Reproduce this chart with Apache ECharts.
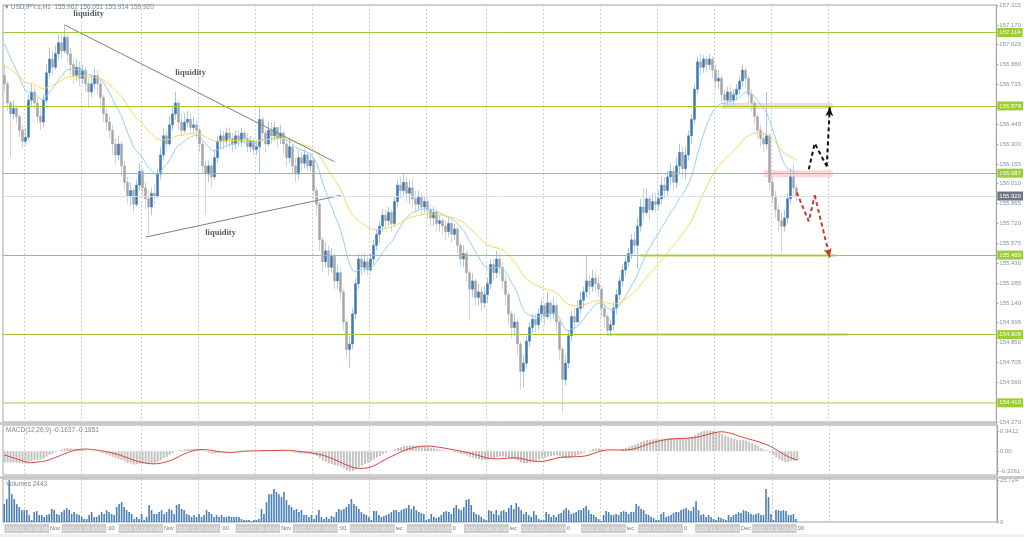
<!DOCTYPE html>
<html>
<head>
<meta charset="utf-8">
<script src="https://cdn.jsdelivr.net/npm/echarts@6/dist/echarts.min.js"></script>
<style>
  html, body { margin: 0; padding: 0; background: #fff; }
  #chart { width: 1024px; height: 537px; }
</style>
</head>
<body>
<div id="chart"></div>
<script>
// USDJPY.s H1 candles (open of each bar = previous close)
const firstOpen = 156.80
const closes = [
  156.74,156.60,156.52,156.56,156.50,156.40,156.32,156.35,156.62,156.68,
  156.60,156.50,156.46,156.62,156.82,156.92,156.86,156.96,157.04,156.98,
  157.08,156.96,156.88,156.80,156.86,156.78,156.84,156.74,156.68,156.74,
  156.80,156.74,156.64,156.52,156.46,156.40,156.30,156.22,156.30,156.14,
  156.02,155.92,155.96,155.86,156.00,156.10,155.98,155.90,155.84,155.94,
  155.92,156.08,156.22,156.36,156.30,156.44,156.52,156.60,156.46,156.40,
  156.46,156.48,156.42,156.44,156.40,156.30,156.14,156.08,156.14,156.06,
  156.20,156.32,156.36,156.32,156.38,156.34,156.30,156.36,156.32,156.38,
  156.34,156.28,156.32,156.26,156.28,156.48,156.38,156.30,156.40,156.36,
  156.42,156.34,156.38,156.30,156.20,156.28,156.14,156.08,156.20,156.16,
  156.22,156.14,156.18,155.96,155.86,155.60,155.44,155.52,155.40,155.48,
  155.30,155.36,155.22,155.00,154.80,154.84,155.06,155.28,155.46,155.40,
  155.44,155.38,155.46,155.56,155.64,155.70,155.78,155.74,155.80,155.72,
  155.88,156.00,155.96,156.02,155.94,155.98,155.90,155.86,155.92,155.84,
  155.88,155.82,155.76,155.80,155.72,155.74,155.70,155.66,155.72,155.64,
  155.68,155.56,155.46,155.50,155.36,155.24,155.30,155.18,155.22,155.14,
  155.20,155.28,155.42,155.36,155.46,155.40,155.30,155.20,155.06,154.96,
  155.00,154.84,154.64,154.70,154.86,154.96,155.02,154.98,155.06,155.12,
  155.04,155.14,155.06,155.12,155.00,154.80,154.58,154.70,154.90,155.04,
  155.00,155.10,155.16,155.22,155.30,155.26,155.32,155.28,155.24,155.10,
  155.04,154.94,154.98,155.10,155.20,155.30,155.38,155.44,155.50,155.60,
  155.56,155.70,155.84,155.80,155.90,155.82,155.88,155.86,155.90,156.00,
  155.96,156.06,156.10,156.02,156.14,156.24,156.12,156.22,156.36,156.48,
  156.70,156.90,156.86,156.92,156.88,156.92,156.84,156.76,156.78,156.66,
  156.62,156.68,156.62,156.66,156.70,156.76,156.84,156.78,156.66,156.60,
  156.50,156.40,156.34,156.30,156.36,156.02,155.92,155.82,155.74,155.70,
  155.76,155.90,156.06,155.98,155.92
]
const highs = [
  156.88,156.76,156.62,156.62,156.58,156.52,156.44,156.42,156.66,156.74,
  156.72,156.64,156.56,156.66,156.88,157.00,156.98,157.02,157.10,157.10,
  157.17,157.10,157.00,156.92,156.92,156.90,156.88,156.86,156.78,156.80,
  156.86,156.84,156.78,156.66,156.56,156.50,156.44,156.34,156.36,156.32,
  156.18,156.06,156.02,155.98,156.04,156.16,156.12,156.02,155.96,155.98,
  156.00,156.12,156.28,156.42,156.40,156.50,156.58,156.68,156.62,156.52,
  156.52,156.54,156.52,156.50,156.48,156.42,156.32,156.18,156.18,156.16,
  156.26,156.36,156.40,156.40,156.42,156.42,156.38,156.40,156.40,156.42,
  156.40,156.38,156.36,156.34,156.32,156.57,156.50,156.40,156.46,156.46,
  156.46,156.42,156.44,156.40,156.32,156.34,156.30,156.20,156.26,156.24,
  156.26,156.24,156.22,156.20,155.98,155.88,155.62,155.58,155.56,155.54,
  155.50,155.42,155.40,155.24,155.02,154.90,155.10,155.32,155.50,155.50,
  155.50,155.48,155.50,155.60,155.68,155.74,155.82,155.82,155.84,155.82,
  155.92,156.04,156.06,156.08,156.06,156.04,156.05,155.96,155.96,155.94,
  155.92,155.90,155.86,155.84,155.82,155.78,155.76,155.74,155.76,155.74,
  155.72,155.70,155.58,155.56,155.52,155.38,155.36,155.32,155.28,155.26,
  155.26,155.32,155.46,155.46,155.52,155.50,155.44,155.34,155.22,155.08,
  155.06,155.02,154.86,154.76,154.90,155.00,155.06,155.06,155.10,155.16,
  155.14,155.22,155.16,155.18,155.14,155.02,154.82,154.76,154.94,155.08,
  155.10,155.16,155.22,155.26,155.48,155.34,155.38,155.36,155.34,155.26,
  155.14,155.06,155.02,155.14,155.24,155.34,155.42,155.48,155.54,155.64,
  155.66,155.76,155.90,155.98,155.98,155.92,155.94,155.94,155.96,156.06,
  156.06,156.10,156.16,156.14,156.20,156.30,156.28,156.28,156.40,156.52,
  156.74,156.94,156.96,156.95,156.94,156.96,156.94,156.88,156.84,156.80,
  156.70,156.72,156.72,156.70,156.74,156.80,156.88,156.86,156.80,156.70,
  156.62,156.52,156.44,156.38,156.68,156.38,156.06,155.96,155.86,155.80,
  155.82,155.94,156.12,156.16,156.00
]
const lows = [
  156.68,156.54,156.20,156.48,156.45,156.35,156.27,156.29,156.33,156.58,
  156.55,156.45,156.40,156.42,156.60,156.78,156.80,156.84,156.92,156.92,
  156.96,156.90,156.80,156.74,156.76,156.72,156.74,156.68,156.56,156.64,
  156.70,156.66,156.56,156.46,156.40,156.34,156.22,156.15,156.18,156.06,
  155.96,155.86,155.85,155.80,155.84,155.96,155.92,155.82,155.64,155.78,
  155.86,155.90,156.04,156.18,156.24,156.28,156.40,156.48,156.40,156.36,
  156.38,156.42,156.38,156.38,156.34,156.24,156.08,155.79,156.02,155.98,
  156.04,156.16,156.26,156.26,156.28,156.28,156.24,156.26,156.28,156.28,
  156.30,156.24,156.24,156.22,156.22,156.09,156.32,156.24,156.28,156.30,
  156.32,156.28,156.30,156.22,156.14,156.16,156.08,156.02,156.04,156.10,
  156.12,156.10,156.10,155.90,155.78,155.52,155.36,155.40,155.34,155.36,
  155.24,155.24,155.16,154.94,154.74,154.67,154.80,155.02,155.24,155.34,
  155.36,155.34,155.36,155.42,155.52,155.58,155.66,155.68,155.70,155.66,
  155.70,155.84,155.90,155.92,155.88,155.86,155.84,155.80,155.82,155.78,
  155.80,155.76,155.70,155.70,155.66,155.66,155.64,155.60,155.62,155.58,
  155.60,155.50,155.40,155.40,155.30,155.01,155.18,155.12,155.12,155.08,
  155.10,155.14,155.24,155.30,155.32,155.34,155.24,155.12,154.98,154.88,
  154.90,154.76,154.50,154.52,154.66,154.82,154.92,154.92,154.94,155.00,
  154.98,155.02,155.00,155.02,154.94,154.72,154.34,154.54,154.66,154.86,
  154.94,155.00,155.06,155.10,155.18,155.20,155.22,155.22,155.18,155.04,
  154.96,154.90,154.90,154.94,155.06,155.16,155.26,155.34,155.40,155.46,
  155.50,155.39,155.66,155.74,155.78,155.74,155.80,155.80,155.82,155.86,
  155.90,155.92,156.00,155.96,155.98,156.08,156.06,156.04,156.18,156.30,
  156.44,156.66,156.80,156.82,156.82,156.84,156.78,156.70,156.70,156.60,
  156.56,156.58,156.58,156.58,156.62,156.66,156.72,156.70,156.60,156.54,
  156.44,156.34,156.28,156.24,156.26,155.96,155.86,155.76,155.66,155.50,
  155.66,155.72,155.86,155.92,155.88
]
// tick volumes (own, finer sampling than the candles)
const volumes = [
  11000,14100,25700,17100,14100,11000,9200,7300,7300,7300,4300,1200,6100,6700,4300,4300,3100,
  4300,4900,8000,7300,4900,4300,6100,7300,8600,7300,4900,6100,4900,4300,3100,1800,
  1800,4300,6100,3100,3100,4300,6100,4900,7300,6100,4900,4300,9200,11000,12200,9200,
  7300,6100,4900,1800,3100,1800,4900,1200,3100,10400,7300,4900,4900,6100,7300,4900,
  6100,8000,7300,4900,10400,11000,8000,7300,4900,4300,3100,4300,3100,4900,3100,4300,
  7300,6100,4900,3100,4300,3100,4300,3100,3100,3700,3100,3100,3100,3100,1800,1200,
  1200,1200,600,1200,1200,1800,8000,4900,12200,17100,17100,20200,18400,17100,15300,18400,
  13500,10400,9200,7300,8000,6100,7300,4300,4300,3100,4300,1800,4300,7300,3100,1800,
  3100,1800,3700,3100,6100,8000,7300,8000,9200,11000,14100,
  11000,9800,8000,6100,4900,4300,3100,1200,6700,6700,4300,3100,3700,4300,4900,6100,
  7300,7300,6100,7300,8000,8600,10400,8000,9800,7300,6100,5500,4900,1200,1800,4900,
  3100,2400,3100,4300,6100,6700,6100,4900,8600,10400,8000,7300,9200,13500,14100,10400,
  6100,4900,4300,3100,1800,1200,7300,6700,4900,7300,4300,6700,7300,6100,8600,10400,
  8000,11600,9200,7300,4900,6100,4300,3100,6700,4300,1800,1200,1200,6100,4900,3100,
  4300,3100,4900,5500,7300,8600,7300,4900,5500,6100,7300,7300,8600,9800,7300,4900,
  4300,3100,1800,600,4300,6700,6100,4300,4300,4900,4300,6100,6700,6100,4900,6100,
  6100,11000,9800,8000,7300,4900,4300,3100,2400,1200,1200,4900,6100,3100,3700,4300,
  5500,6100,6100,7300,8000,8600,7300,6700,9200,12900,7300,4300,4900,3100,4300,3100,
  1800,1200,3100,2400,1800,1200,4300,3100,4300,4900,6100,5500,7300,6700,6100,4900,
  4300,4900,5500,4300,4300,20200,15300,4900,1200,7300,7300,6700,7300,6700,4300,4300,
  4900,1800
]

const priceTicks = [157.315,157.170,157.025,156.880,156.735,156.445,156.300,156.155,156.010,
  155.865,155.720,155.575,155.430,155.285,155.140,154.995,154.850,154.705,154.560,154.270]
const macdTicks = [0.3412, 0, -0.3361]
const volumeTicks = [25724, 0]
const levels = [157.114, 156.578, 156.087, 155.489, 154.908, 154.410]
const lastPrice = 155.920
const dayLabels = ['2025.11.24 00:00','2025.11.25 00:00','2025.11.26 00:00','2025.11.27 00:00',
  '2025.11.28 00:00','2025.12.01 00:00','2025.12.02 00:00','2025.12.03 00:00','2025.12.04 00:00',
  '2025.12.05 00:00','2025.12.08 00:00','2025.12.09 00:00','2025.12.10 00:00','2025.12.11 00:00']
const gapLabels = ['Nov',':00','Nov',':00','Nov',':00','lec','0','lec','0','lec','0','Dec','00']

// drawn objects, in [bar index, price]
const trendUpper = [[20.2, 157.17], [109.5, 156.17]]
const trendLower = [[46.8, 155.62], [111.8, 155.925]]
const liquidityNotes = [[27.5, 157.25], [62, 156.82], [72, 155.655]]
const upperZone = [[239.2, 156.600], [276.2, 156.556]]
const lowerZone = [[252.5, 156.108], [276.2, 156.057]]
const upPath = [[267.8, 156.115], [269.8, 156.305], [273.5, 156.137], [275.2, 156.569]]
const downPath = [[264.2, 155.947], [267.8, 155.735], [269.8, 155.925], [274.5, 155.472]]

// indicator settings / seeds for history before the first bar
const maFastPeriod = 16, maFastSeed = 157.07
const maSlowPeriod = 40, maSlowSeed = 156.88
const macdFastSeed = 156.78, macdSlowSeed = 156.98, signalSeed = -0.05

const N_SLOTS = 331
const V_SLOTS = 398
const slotCats = Array.from({ length: N_SLOTS }, (_, i) => String(i))
const volCats = Array.from({ length: V_SLOTS }, (_, i) => String(i))

const opens = closes.map((c, i) => (i === 0 ? firstOpen : closes[i - 1]))
const wickData = closes.map((c, i) => {
  const o = opens[i]
  return [o, c, Math.min(lows[i], o, c), Math.max(highs[i], o, c)]
})
const bodyData = closes.map((c, i) => {
  const o = opens[i]
  return [o, c, Math.min(o, c), Math.max(o, c)]
})

function ema(src, period, seed) {
  const k = 2 / (period + 1)
  let prev = seed
  return src.map(v => (prev = prev + k * (v - prev)))
}
const maFast = ema(closes, maFastPeriod, maFastSeed)
const maSlow = ema(closes, maSlowPeriod, maSlowSeed)
const e12 = ema(closes, 12, macdFastSeed)
const e26 = ema(closes, 26, macdSlowSeed)
const macd = e12.map((v, i) => v - e26[i])
const signal = macd.map((_, i) => {
  let s = 0
  for (let j = i - 8; j <= i; j++) s += j >= 0 ? macd[j] : signalSeed
  return s / 9
})

const labelEvery = 19.15
const labelAt = new Map()
dayLabels.forEach((d, k) => labelAt.set(Math.round(k * labelEvery), k))
const gridAt = new Set()
for (let k = 0; k < 15; k++) gridAt.add(Math.round(7.33 + k * labelEvery))

const gridSplit = {
  show: true,
  interval: (i) => gridAt.has(i),
  lineStyle: { color: '#cfcfcf', type: [2, 2], width: 1 }
}
const axisText = { fontSize: 6, color: '#8592a6', fontFamily: 'Liberation Sans' }
const green = '#9acd32'
const solidGreen = { color: green, width: 1, type: 'solid' }

const chart = echarts.init(document.getElementById('chart'))

const levelLines = levels.map(v => ({
  yAxis: v,
  lineStyle: v === 154.410 ? { color: '#cde6a6', width: 2, type: 'solid' } : solidGreen,
  label: { backgroundColor: green }
}))
levelLines.push({
  yAxis: lastPrice,
  lineStyle: { color: '#dcdcf4', width: 1, type: 'solid' },
  label: { backgroundColor: '#6d7680' }
})
const bandStyle = { color: 'rgba(154,205,50,0.42)', width: 3, type: 'solid' }

const options = {
  animation: false,
  backgroundColor: '#ffffff',
  textStyle: { fontFamily: 'Liberation Sans' },
  grid: [
    { left: 3, right: 27, top: 5, height: 417, show: true, borderColor: '#a3a3a3', borderWidth: 1 },
    { left: 3, right: 27, top: 425, height: 50, show: true, borderColor: '#a3a3a3', borderWidth: 1 },
    { left: 3, right: 27, top: 479, height: 43, show: true, borderColor: '#a3a3a3', borderWidth: 1 }
  ],
  xAxis: [
    { type: 'category', gridIndex: 0, data: slotCats, axisLine: { show: false }, axisTick: { show: false },
      axisLabel: { show: false }, splitLine: gridSplit },
    { type: 'category', gridIndex: 1, data: slotCats, axisLine: { show: false }, axisTick: { show: false },
      axisLabel: { show: false }, splitLine: gridSplit },
    { type: 'category', gridIndex: 2, position: 'top', data: volCats, show: false },
    { type: 'category', gridIndex: 2, position: 'bottom', data: slotCats,
      axisLine: { show: false }, axisTick: { show: false },
      splitLine: gridSplit,
      axisLabel: {
        interval: (i) => labelAt.has(i),
        showMinLabel: true,
        showMaxLabel: true,
        hideOverlap: false,
        align: 'left',
        margin: 2,
        formatter: (val, idx) => {
          const k = labelAt.get(idx)
          return '{box|' + dayLabels[k] + '}{gap|' + gapLabels[k] + '}'
        },
        rich: {
          box: { backgroundColor: '#cccccc', color: '#eeeeee', fontSize: 5.5, padding: [2, 1, 1, 1] },
          gap: { color: '#707070', fontSize: 5.5, padding: [0, 0, 0, 1] }
        }
      } }
  ],
  yAxis: [
    { type: 'value', gridIndex: 0, position: 'right', min: 154.270, max: 157.315, z: 5,
      splitLine: { show: false },
      axisLine: { show: true, lineStyle: { color: '#a3a3a3' } },
      axisTick: { show: true, customValues: priceTicks, length: 2, lineStyle: { color: '#9aa4b0' } },
      axisLabel: Object.assign({ customValues: priceTicks, margin: 3, formatter: v => v.toFixed(3) }, axisText) },
    { type: 'value', gridIndex: 1, position: 'right', min: -0.40, max: 0.44,
      splitLine: { show: false },
      axisLine: { show: true, lineStyle: { color: '#a3a3a3' } },
      axisTick: { show: true, customValues: macdTicks, length: 2, lineStyle: { color: '#9aa4b0' } },
      axisLabel: Object.assign({ customValues: macdTicks, margin: 3,
        formatter: v => (v === 0 ? '0.00' : v.toFixed(4)) }, axisText) },
    { type: 'value', gridIndex: 2, position: 'right', min: 0, max: 26400,
      splitLine: { show: false },
      axisLine: { show: true, lineStyle: { color: '#a3a3a3' } },
      axisTick: { show: true, customValues: volumeTicks, length: 2, lineStyle: { color: '#9aa4b0' } },
      axisLabel: Object.assign({ customValues: volumeTicks, margin: 3 }, axisText) }
  ],
  graphic: [
    { type: 'rect', shape: { x: 0, y: 422, width: 997, height: 3 }, style: { fill: '#c9c9c9' }, z: 1 },
    { type: 'rect', shape: { x: 0, y: 476, width: 1024, height: 3 }, style: { fill: '#c9c9c9' }, z: 1 },
    { type: 'rect', shape: { x: 0, y: 534, width: 1024, height: 3 }, style: { fill: '#efefef' }, z: 1 },
    { type: 'text', left: 5, top: 4, z: 100,
      style: { text: '\u25BE USDJPY.s,H1  155.962 156.051 155.914 155.920', fontSize: 6.5, fill: '#7686a0',
        fontFamily: 'Liberation Sans' } },
    { type: 'text', left: 6, top: 427, z: 100,
      style: { text: 'MACD(12,26,9) -0.1637 -0.1851', fontSize: 6.5, fill: '#7686a0', fontFamily: 'Liberation Sans' } },
    { type: 'text', left: 6, top: 481, z: 100,
      style: { text: 'Volumes 2443', fontSize: 6.5, fill: '#7686a0', fontFamily: 'Liberation Sans' } }
  ],
  series: [
    {
      name: 'wicks', type: 'candlestick', xAxisIndex: 0, yAxisIndex: 0, data: wickData, barWidth: 1,
      silent: true,
      itemStyle: { color: '#a7c8e6', color0: '#d3d3d3', borderColor: '#a7c8e6', borderColor0: '#d3d3d3', borderWidth: 1 },
      markArea: {
        silent: true,
        itemStyle: { color: 'rgba(246,150,150,0.38)' },
        data: [
          [{ coord: upperZone[0] }, { coord: upperZone[1] }],
          [{ coord: lowerZone[0] }, { coord: lowerZone[1] }]
        ]
      },
      markLine: {
        silent: true,
        precision: 3,
        symbol: ['none', 'none'],
        lineStyle: solidGreen,
        label: {
          position: 'end', distance: 1, color: '#ffffff', fontSize: 6, padding: [2, 2, 1, 2],
          fontFamily: 'Liberation Sans', formatter: p => Number(p.value).toFixed(3)
        },
        data: levelLines.concat([
          [{ coord: [211.8, 155.489], lineStyle: bandStyle, label: { show: false } },
           { coord: [276.8, 155.489] }],
          [{ coord: [201.2, 154.908], lineStyle: bandStyle, label: { show: false } },
           { coord: [281.2, 154.908] }]
        ])
      }
    },
    {
      name: 'bodies', type: 'candlestick', xAxisIndex: 0, yAxisIndex: 0, data: bodyData, barWidth: 2,
      silent: true,
      itemStyle: { color: '#3b79b4', color0: '#a6a6a6', borderColor: '#3b79b4', borderColor0: '#a6a6a6', borderWidth: 0.5 }
    },
    { name: 'maFast', type: 'line', xAxisIndex: 0, yAxisIndex: 0, data: maFast, symbol: 'none',
      lineStyle: { color: '#93d1ee', width: 1 }, silent: true },
    { name: 'maSlow', type: 'line', xAxisIndex: 0, yAxisIndex: 0, data: maSlow, symbol: 'none',
      lineStyle: { color: '#f6d955', width: 1 }, silent: true },
    { name: 'trendUpper', type: 'line', xAxisIndex: 0, yAxisIndex: 0, data: trendUpper, symbol: 'none',
      lineStyle: { color: '#808080', width: 1 }, silent: true },
    { name: 'trendLower', type: 'line', xAxisIndex: 0, yAxisIndex: 0, data: trendLower, symbol: 'none',
      lineStyle: { color: '#808080', width: 1 }, silent: true },
    { name: 'up', type: 'line', xAxisIndex: 0, yAxisIndex: 0, data: upPath.slice(0, 3), symbol: 'none',
      lineStyle: { color: '#111111', width: 2, type: [4, 3] }, silent: true, z: 5,
      markLine: { silent: true, symbol: ['none', 'arrow'], symbolSize: [6, 9],
        lineStyle: { color: '#111111', width: 2, type: [4, 3] }, label: { show: false },
        data: [[{ coord: upPath[2] }, { coord: upPath[3] }]] } },
    { name: 'down', type: 'line', xAxisIndex: 0, yAxisIndex: 0, data: downPath.slice(0, 3), symbol: 'none',
      lineStyle: { color: '#c23b30', width: 2, type: [4, 3] }, silent: true, z: 5,
      markLine: { silent: true, symbol: ['none', 'arrow'], symbolSize: [6, 9],
        lineStyle: { color: '#c23b30', width: 2, type: [4, 3] }, label: { show: false },
        data: [[{ coord: downPath[2] }, { coord: downPath[3] }]] } },
    { name: 'notes', type: 'scatter', xAxisIndex: 0, yAxisIndex: 0, data: liquidityNotes, symbolSize: 0,
      silent: true, z: 6,
      label: { show: true, position: 'inside', formatter: 'liquidity', fontFamily: 'Liberation Serif',
        fontWeight: 'bold', fontSize: 8.5, color: '#333333' } },
    { name: 'macd', type: 'bar', xAxisIndex: 1, yAxisIndex: 1, data: macd, barWidth: 2, silent: true,
      itemStyle: { color: '#c2c2c2' } },
    { name: 'signal', type: 'line', xAxisIndex: 1, yAxisIndex: 1, data: signal, symbol: 'none', silent: true,
      lineStyle: { color: '#e2403a', width: 1 } },
    { name: 'volumes', type: 'bar', xAxisIndex: 2, yAxisIndex: 2, data: volumes, barWidth: 1.6, silent: true,
      itemStyle: { color: '#4a7fb6' } }
  ]
}

chart.setOption(options)
</script>
</body>
</html>
